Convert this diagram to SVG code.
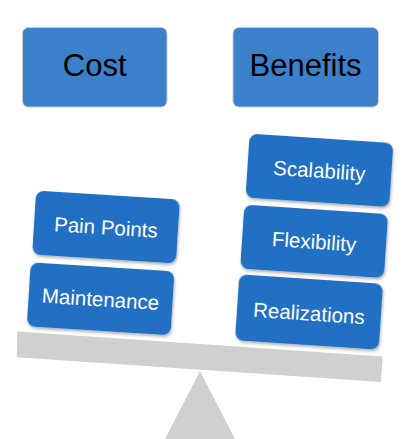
<svg xmlns="http://www.w3.org/2000/svg" width="413" height="439" viewBox="0 0 413 439">
<style>
.top{fill:#3A80CA;stroke:#C8C8C8;stroke-width:1}
.top-t{font-family:"Liberation Sans",Arial,sans-serif;font-size:31px;fill:#000;text-anchor:middle}
.box{fill:#2070C4}
.box-t{font-family:"Liberation Sans",Arial,sans-serif;font-size:20.5px;fill:#fff;text-anchor:middle;dominant-baseline:central}
.scale{fill:#D0D0D0}
</style>
<defs>
<filter id="sh" x="-10%" y="-10%" width="130%" height="140%">
<feDropShadow dx="1" dy="2" stdDeviation="1.5" flood-color="#000" flood-opacity="0.3"/>
</filter>
</defs>
<g id="fulcrum"><polygon class="scale" points="200,371 165,439 235,439"/></g>
<g id="beam"><polygon class="scale" points="17.3,331.5 382.7,356.5 381,382 16.7,357.3"/></g>
<g id="cost"><rect class="top" x="22.5" y="27.5" width="144.5" height="79.5" rx="6"/><text class="top-t" x="94.7" y="76">Cost</text></g>
<g id="benefits"><rect class="top" x="233" y="27.5" width="145.5" height="79.5" rx="6"/><text class="top-t" x="305.5" y="76">Benefits</text></g>
<g id="pain-points" transform="translate(106,227) rotate(3.6)"><rect class="box" filter="url(#sh)" x="-72" y="-32" width="144" height="64" rx="8"/><text class="box-t" x="0" y="0">Pain Points</text></g>
<g id="maintenance" transform="translate(100.6,298.8) rotate(3.6)"><rect class="box" filter="url(#sh)" x="-72" y="-32" width="144" height="64" rx="8"/><text class="box-t" x="0" y="0">Maintenance</text></g>
<g id="scalability" transform="translate(319.4,170.3) rotate(3.8)"><rect class="box" filter="url(#sh)" x="-72" y="-32" width="144" height="64" rx="8"/><text class="box-t" x="0" y="0">Scalability</text></g>
<g id="flexibility" transform="translate(314.1,241.3) rotate(3.8)"><rect class="box" filter="url(#sh)" x="-72" y="-32" width="144" height="64" rx="8"/><text class="box-t" x="0" y="0">Flexibility</text></g>
<g id="realizations" transform="translate(309,312) rotate(3.8)"><rect class="box" filter="url(#sh)" x="-72" y="-33" width="144" height="66" rx="8"/><text class="box-t" x="0" y="1">Realizations</text></g>
<g id="connectors"/>
</svg>
